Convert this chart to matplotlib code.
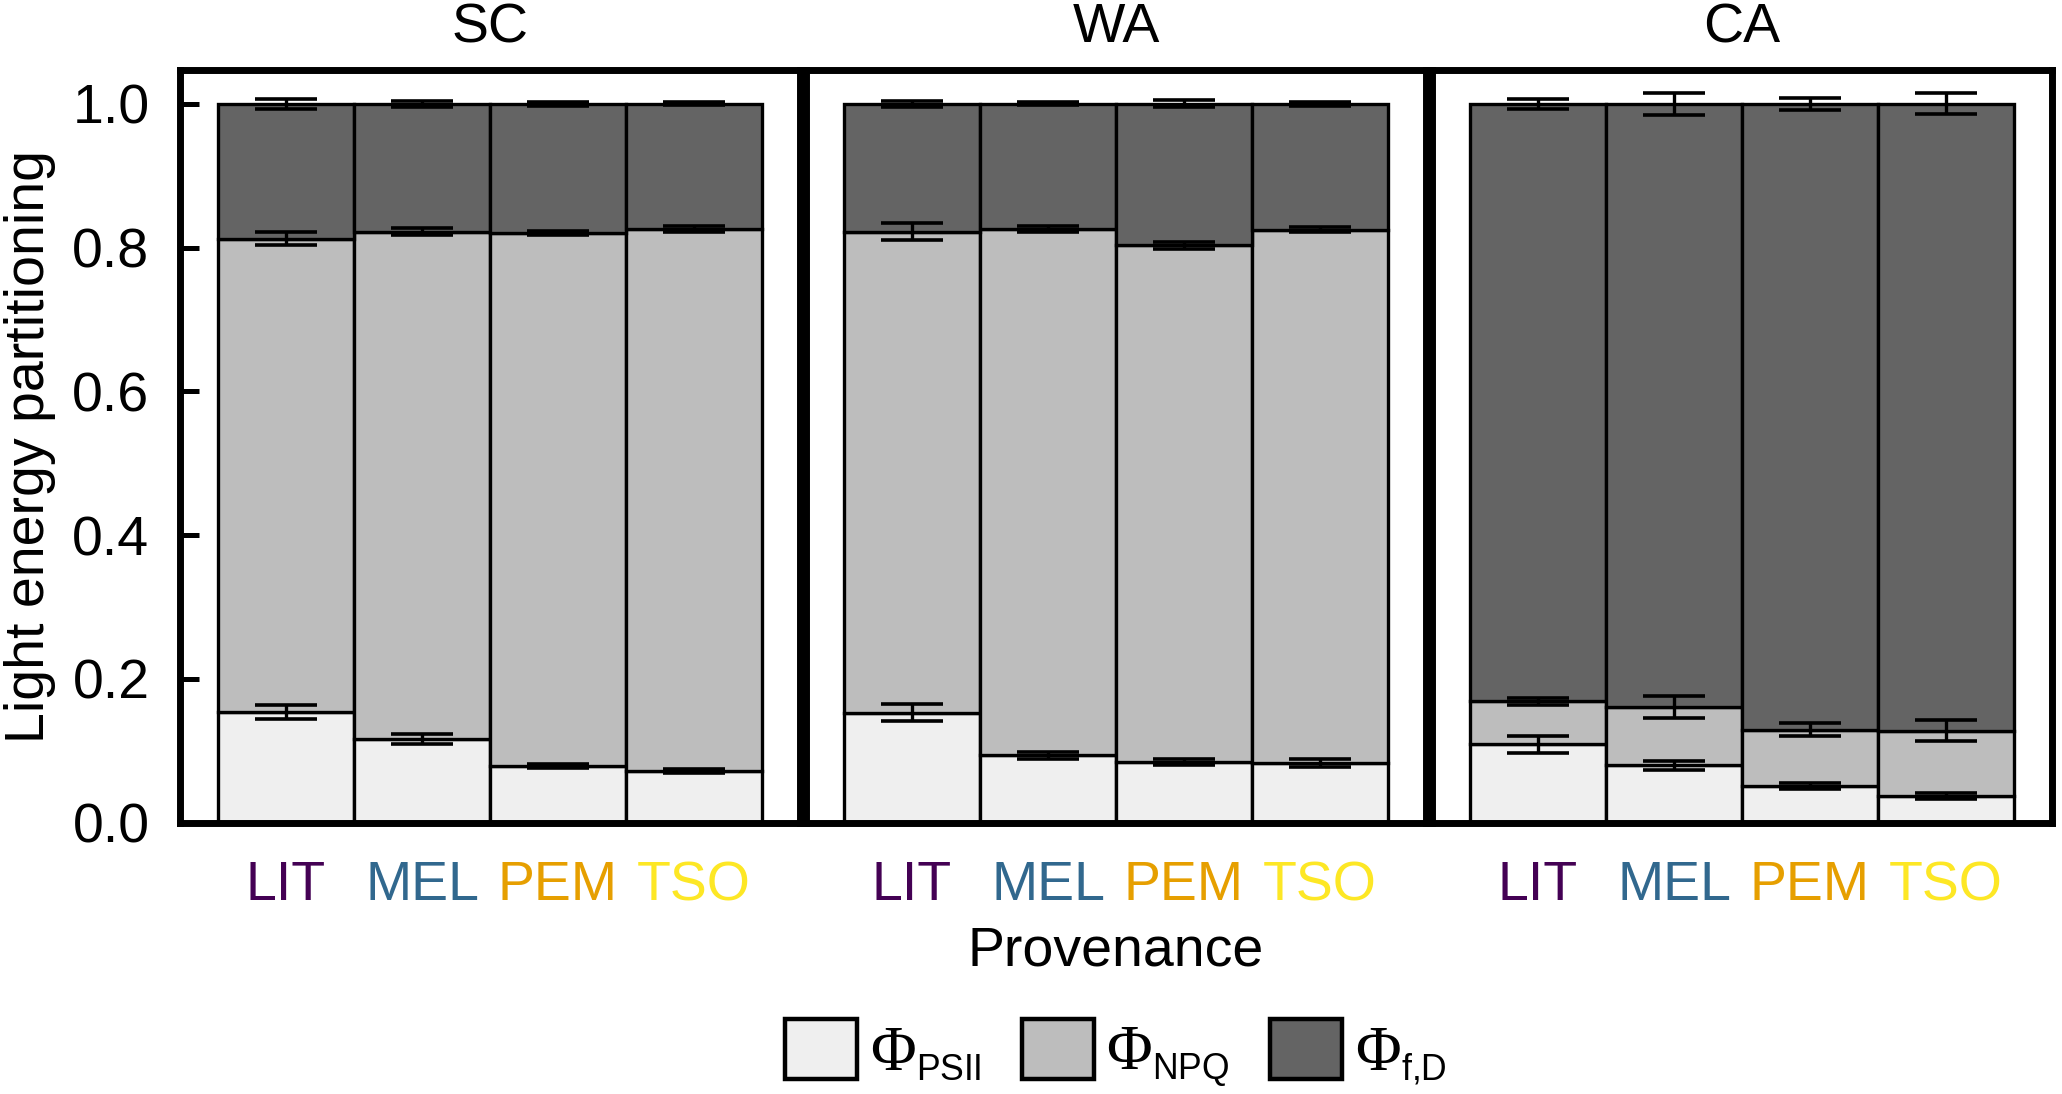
import matplotlib
matplotlib.use("Agg")
import matplotlib.pyplot as plt
from matplotlib.patches import Patch
import numpy as np
try:
    import matplotlib._mathtext as _mt
    _mt.SHRINK_FACTOR = 0.57
except Exception:
    pass

plt.rcParams['font.family'] = ['Liberation Sans', 'DejaVu Sans']
plt.rcParams['mathtext.fontset'] = 'custom'
plt.rcParams['mathtext.rm'] = 'Liberation Serif'
plt.rcParams['mathtext.sf'] = 'Liberation Sans'

# ---------------- data ----------------
sites = ['SC', 'WA', 'CA']
provenances = ['LIT', 'MEL', 'PEM', 'TSO']
prov_colors = ['#440154', '#31688E', '#E69F00', '#FDE725']

phi_psii = {
    'SC': [0.154, 0.117, 0.079, 0.072],
    'WA': [0.153, 0.094, 0.084, 0.083],
    'CA': [0.109, 0.080, 0.051, 0.0375],
}
phi_npq = {
    'SC': [0.658, 0.705, 0.741, 0.754],
    'WA': [0.669, 0.732, 0.719, 0.742],
    'CA': [0.060, 0.081, 0.078, 0.0905],
}
phi_fd = {
    'SC': [0.188, 0.178, 0.180, 0.174],
    'WA': [0.178, 0.174, 0.197, 0.175],
    'CA': [0.831, 0.839, 0.871, 0.872],
}
se_psii = {
    'SC': [0.010, 0.007, 0.003, 0.003],
    'WA': [0.012, 0.005, 0.004, 0.005],
    'CA': [0.012, 0.006, 0.004, 0.004],
}
se_npq = {
    'SC': [0.009, 0.005, 0.003, 0.004],
    'WA': [0.012, 0.004, 0.005, 0.004],
    'CA': [0.005, 0.015, 0.009, 0.015],
}
se_fd = {
    'SC': [0.007, 0.004, 0.003, 0.002],
    'WA': [0.004, 0.002, 0.005, 0.003],
    'CA': [0.007, 0.015, 0.0085, 0.0145],
}

legend_labels = [r'$\mathrm{Φ}_{\mathsf{PSII}}$',
                 r'$\mathrm{Φ}_{\mathsf{NPQ}}$',
                 r'$\mathrm{Φ}_{\mathsf{f{,}D}}$']
seg_colors = ['#EFEFEF', '#BDBDBD', '#646464']
ylabel = 'Light energy partitioning'
xlabel = 'Provenance'
yticks = [0.0, 0.2, 0.4, 0.6, 0.8, 1.0]

# ---------------- figure ----------------
W, H = 2062, 1094
fig = plt.figure(figsize=(W / 100, H / 100), dpi=100)

lefts = [180, 806, 1432]
pw = 620
top_px, bot_px = 70, 822.7
FS = 40
frame_lw = 5.0
edge_lw = 2.4
x = np.arange(len(provenances))

for i, site in enumerate(sites):
    ax = fig.add_axes([lefts[i] / W, 1 - bot_px / H, pw / W, (bot_px - top_px) / H])
    p = np.array(phi_psii[site])
    n = np.array(phi_npq[site])
    f = np.array(phi_fd[site])
    ax.bar(x, p, width=1.0, color=seg_colors[0], edgecolor='black', linewidth=edge_lw, zorder=2)
    ax.bar(x, n, width=1.0, bottom=p, color=seg_colors[1], edgecolor='black', linewidth=edge_lw, zorder=2)
    ax.bar(x, f, width=1.0, bottom=p + n, color=seg_colors[2], edgecolor='black', linewidth=edge_lw, zorder=2)
    ekw = dict(fmt='none', ecolor='black', elinewidth=2.4, capsize=22, capthick=2.6, zorder=5)
    ax.errorbar(x, p, yerr=se_psii[site], **ekw)
    ax.errorbar(x, p + n, yerr=se_npq[site], **ekw)
    ax.errorbar(x, p + n + f, yerr=se_fd[site], **ekw)

    ax.set_xlim(-0.78, 3.78)
    ax.set_ylim(0, 1.047)
    for sp in ax.spines.values():
        sp.set_linewidth(frame_lw)
        sp.set_color('black')
    ax.set_xticks(x)
    ax.set_xticklabels(provenances)
    for lab, c in zip(ax.get_xticklabels(), prov_colors):
        lab.set_color(c)
    ax.tick_params(axis='x', length=0, pad=27, labelsize=FS)
    if i == 0:
        ax.set_yticks(yticks)
        ax.set_yticklabels([f'{v:.1f}' for v in yticks])
        ax.tick_params(axis='y', direction='in', length=14, width=3.6, pad=22, labelsize=FS)
    else:
        ax.set_yticks([])
    ax.set_title(site, fontsize=FS, pad=20)

fig.text(30 / W, 1 - 446 / H, ylabel, rotation=90, ha='center', va='center', fontsize=FS)
fig.text(1116 / W, 1 - 966 / H, xlabel, ha='center', va='baseline', fontsize=FS)

handles = [Patch(facecolor=c, edgecolor='black', linewidth=3.2) for c in seg_colors]
fig.legend(handles, legend_labels, loc='center', bbox_to_anchor=(1116 / W, 1 - 1054 / H),
           ncol=3, frameon=False, fontsize=45, handlelength=1.15, handleheight=1.1,
           handletextpad=0.2, columnspacing=0.65, borderpad=0, borderaxespad=0)

fig.savefig('out.png', dpi=100)
